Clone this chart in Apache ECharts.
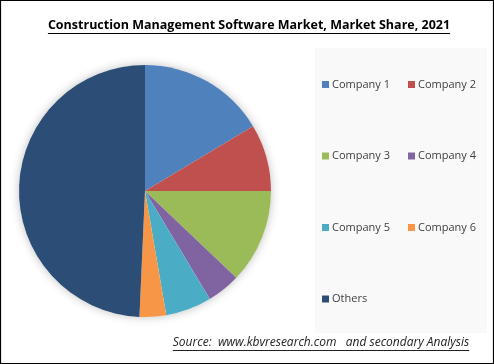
<!DOCTYPE html>
<html><head><meta charset="utf-8">
<script src="https://cdn.jsdelivr.net/npm/echarts@6/dist/echarts.min.js"></script>
<style>html,body{margin:0;padding:0;background:#fff}#c{width:494px;height:364px}</style>
</head><body><div id="c"></div>
<script>
const titleText = 'Construction Management Software Market, Market Share, 2021';
const sourceText = 'Source:  www.kbvresearch.com   and secondary Analysis';
const categories = ['Company 1','Company 2','Company 3','Company 4','Company 5','Company 6','Others'];
const shares = [16.4, 8.6, 12.1, 4.3, 5.9, 3.4, 49.3];
const colors = ['#4f81bd','#c0504d','#9bbb59','#8064a2','#4bacc6','#f79646','#2c4d75'];
const legendCol1 = ['Company 1','Company 3','Company 5','Others'];
const legendCol2 = ['Company 2','Company 4','Company 6'];

const titleFont = 'bold 12.5px "Open Sans"';
const sourceFont = 'italic 12px "Open Sans"';
function measure(font, txt){const c=document.createElement('canvas').getContext('2d');c.font=font;return c.measureText(txt).width;}
const tW = measure(titleFont, titleText);
const sW = measure(sourceFont, sourceText);
const tCx = 249, tY = 25, sCx = 321, sY = 343;

const chart = echarts.init(document.getElementById('c'));
chart.setOption({
  backgroundColor:'#fff',
  animation:false,
  color: colors,
  graphic:[
    {type:'rect', z:-10, shape:{x:315,y:48,width:172,height:285}, style:{fill:'#f9f9f9'}},
    {type:'rect', z:100, shape:{x:0.5,y:0.5,width:493,height:363}, style:{fill:null, stroke:'#000', lineWidth:1.2}},
    {type:'text', style:{text:titleText, x:tCx, y:tY, align:'center', verticalAlign:'middle', font:titleFont, fill:'#000'}},
    {type:'line', shape:{x1:tCx-tW/2, y1:tY+8.5, x2:tCx+tW/2, y2:tY+8.5}, style:{stroke:'#000', lineWidth:1}},
    {type:'text', style:{text:sourceText, x:sCx, y:sY, align:'center', verticalAlign:'middle', font:sourceFont, fill:'#222'}},
    {type:'line', shape:{x1:sCx-sW/2, y1:sY+7.5, x2:sCx+sW/2, y2:sY+7.5}, style:{stroke:'#222', lineWidth:1}}
  ],
  legend:[
    {data:legendCol1, orient:'vertical', left:322, top:79, itemWidth:7, itemHeight:7, itemGap:60.5, icon:'rect', padding:0,
     textStyle:{fontSize:11, color:'#404040', fontFamily:'"Open Sans"', padding:[0,0,0,-2]}, selectedMode:false},
    {data:legendCol2, orient:'vertical', left:408, top:79, itemWidth:7, itemHeight:7, itemGap:60.5, icon:'rect', padding:0,
     textStyle:{fontSize:11, color:'#404040', fontFamily:'"Open Sans"', padding:[0,0,0,-2]}, selectedMode:false}
  ],
  series:[
    {type:'pie', silent:true, center:[145,191], radius:126, label:{show:false}, labelLine:{show:false},
     data:[{value:1, name:'_bg', itemStyle:{color:'#fff', shadowBlur:10, shadowColor:'rgba(0,0,0,0.25)'}}], z:0},
    {type:'pie', center:[145,191], radius:126, startAngle:90, clockwise:true,
     label:{show:false}, labelLine:{show:false}, itemStyle:{borderWidth:0},
     emphasis:{disabled:true},
     data: categories.map((n,i)=>({name:n, value:shares[i], itemStyle:{color:colors[i]}})), z:2}
  ]
});
</script></body></html>
